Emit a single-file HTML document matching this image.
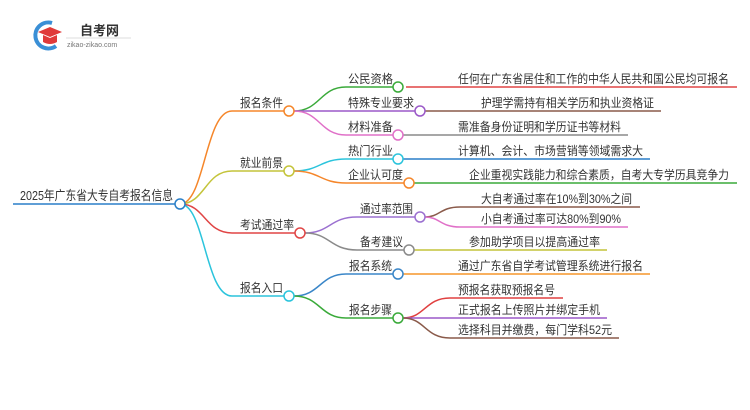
<!DOCTYPE html>
<html><head><meta charset="utf-8"><style>
html,body{margin:0;padding:0;background:#fff;width:750px;height:410px;overflow:hidden}
text{font-family:"Liberation Sans","Noto Sans CJK SC",sans-serif;font-size:12px;fill:#333}
</style></head><body>
<svg width="750" height="410" xmlns="http://www.w3.org/2000/svg">
<!-- logo -->
<path d="M52,23 A13,13 0 1 0 56,46" fill="none" stroke="#3a8fd6" stroke-width="4"/>
<path d="M38,32 L50,27 L62,32 L50,37 Z" fill="#e03a3a"/>
<path d="M43,35 L43,42 Q50,46 57,42 L57,35 L50,38 Z" fill="#e03a3a"/>
<text x="80" y="35" style="font-size:13px;font-weight:bold;fill:#333">自考网</text>
<line x1="66" y1="38" x2="131" y2="38" stroke="#ddd" stroke-width="1"/>
<text x="67" y="47" style="font-size:7px;fill:#777">zikao-zikao.com</text>

<g fill="none" stroke-width="1.5">
<line x1="13" y1="204" x2="175" y2="204" stroke="#2a7fc8"/>
<path d="M180,204 C205,204 205,111 232,111 H284" stroke="#f5862a"/>
<path d="M180,204 C205,204 205,171 232,171 H284" stroke="#c4c43a"/>
<path d="M180,204 C205,204 205,233 232,233 H295" stroke="#e04545"/>
<path d="M180,204 C205,204 205,296 232,296 H284" stroke="#2bc4dc"/>
<path d="M294,111 C320,111 320,87 346,87 H393" stroke="#3aaa3a"/>
<path d="M294,111 H415" stroke="#9b59c8"/>
<path d="M294,111 C320,111 320,135 346,135 H393" stroke="#e070c8"/>
<path d="M294,171 C320,171 320,159 346,159 H393" stroke="#2bc4dc"/>
<path d="M294,171 C320,171 320,183 346,183 H404" stroke="#f5862a"/>
<path d="M305,233 C330,233 330,217 357,217 H415" stroke="#9b70d0"/>
<path d="M305,233 C330,233 330,250 357,250 H404" stroke="#8a8a8a"/>
<path d="M294,296 C320,296 320,274 346,274 H393" stroke="#3a86c8"/>
<path d="M294,296 C320,296 320,318 346,318 H393" stroke="#3aaa3a"/>
<path d="M406,87 H737" stroke="#e04545"/>
<path d="M425,111 H661" stroke="#8a5a4a"/>
<path d="M403,135 H628" stroke="#8a8a8a"/>
<path d="M403,159 H650" stroke="#2a7fc8"/>
<path d="M414,183 H737" stroke="#3aaa3a"/>
<path d="M425,217 C440,217 440,207 460,207 H640" stroke="#8a5a4a"/>
<path d="M425,217 C440,217 440,227 460,227 H628" stroke="#e070c8"/>
<path d="M414,250 H607" stroke="#c4c43a"/>
<path d="M403,274 H650" stroke="#f5962a"/>
<path d="M403,318 C425,318 425,298 450,298 H563" stroke="#e04040"/>
<path d="M403,318 H607" stroke="#9b59c8"/>
<path d="M403,318 C425,318 425,338 450,338 H619" stroke="#8a5a4a"/>
<circle cx="180" cy="204" r="5" fill="#fff" stroke="#2a7fc8"/>
<circle cx="289" cy="111" r="5" fill="#fff" stroke="#f5862a"/>
<circle cx="289" cy="171" r="5" fill="#fff" stroke="#c4c43a"/>
<circle cx="300" cy="233" r="5" fill="#fff" stroke="#e04545"/>
<circle cx="289" cy="296" r="5" fill="#fff" stroke="#2bc4dc"/>
<circle cx="398" cy="87" r="5" fill="#fff" stroke="#3aaa3a"/>
<circle cx="420" cy="111" r="5" fill="#fff" stroke="#9b59c8"/>
<circle cx="398" cy="135" r="5" fill="#fff" stroke="#e070c8"/>
<circle cx="398" cy="159" r="5" fill="#fff" stroke="#2bc4dc"/>
<circle cx="409" cy="183" r="5" fill="#fff" stroke="#f5862a"/>
<circle cx="420" cy="217" r="5" fill="#fff" stroke="#9b70d0"/>
<circle cx="409" cy="250" r="5" fill="#fff" stroke="#8a8a8a"/>
<circle cx="398" cy="274" r="5" fill="#fff" stroke="#3a86c8"/>
<circle cx="398" cy="318" r="5" fill="#fff" stroke="#3aaa3a"/>
</g>
<text x="20" y="200" style="font-size:13px" textLength="153" lengthAdjust="spacingAndGlyphs">2025年广东省大专自考报名信息</text>
<text x="240" y="107" textLength="43" lengthAdjust="spacingAndGlyphs">报名条件</text>
<text x="240" y="167" textLength="43" lengthAdjust="spacingAndGlyphs">就业前景</text>
<text x="240" y="229" textLength="54" lengthAdjust="spacingAndGlyphs">考试通过率</text>
<text x="240" y="292" textLength="43" lengthAdjust="spacingAndGlyphs">报名入口</text>
<text x="348" y="83" textLength="45" lengthAdjust="spacingAndGlyphs">公民资格</text>
<text x="348" y="107" textLength="66" lengthAdjust="spacingAndGlyphs">特殊专业要求</text>
<text x="348" y="131" textLength="45" lengthAdjust="spacingAndGlyphs">材料准备</text>
<text x="348" y="155" textLength="45" lengthAdjust="spacingAndGlyphs">热门行业</text>
<text x="348" y="179" textLength="55" lengthAdjust="spacingAndGlyphs">企业认可度</text>
<text x="360" y="213" textLength="53" lengthAdjust="spacingAndGlyphs">通过率范围</text>
<text x="360" y="246" textLength="43" lengthAdjust="spacingAndGlyphs">备考建议</text>
<text x="349" y="270" textLength="43" lengthAdjust="spacingAndGlyphs">报名系统</text>
<text x="349" y="314" textLength="43" lengthAdjust="spacingAndGlyphs">报名步骤</text>
<text x="458" y="83" textLength="271" lengthAdjust="spacingAndGlyphs">任何在广东省居住和工作的中华人民共和国公民均可报名</text>
<text x="481" y="107" textLength="173" lengthAdjust="spacingAndGlyphs">护理学需持有相关学历和执业资格证</text>
<text x="458" y="131" textLength="163" lengthAdjust="spacingAndGlyphs">需准备身份证明和学历证书等材料</text>
<text x="458" y="155" textLength="185" lengthAdjust="spacingAndGlyphs">计算机、会计、市场营销等领域需求大</text>
<text x="469" y="179" textLength="260" lengthAdjust="spacingAndGlyphs">企业重视实践能力和综合素质，自考大专学历具竞争力</text>
<text x="481" y="203" textLength="151" lengthAdjust="spacingAndGlyphs">大自考通过率在10%到30%之间</text>
<text x="481" y="223" textLength="140" lengthAdjust="spacingAndGlyphs">小自考通过率可达80%到90%</text>
<text x="469" y="246" textLength="131" lengthAdjust="spacingAndGlyphs">参加助学项目以提高通过率</text>
<text x="458" y="270" textLength="185" lengthAdjust="spacingAndGlyphs">通过广东省自学考试管理系统进行报名</text>
<text x="458" y="294" textLength="97" lengthAdjust="spacingAndGlyphs">预报名获取预报名号</text>
<text x="458" y="314" textLength="142" lengthAdjust="spacingAndGlyphs">正式报名上传照片并绑定手机</text>
<text x="458" y="334" textLength="154" lengthAdjust="spacingAndGlyphs">选择科目并缴费，每门学科52元</text>
</svg>
</body></html>
